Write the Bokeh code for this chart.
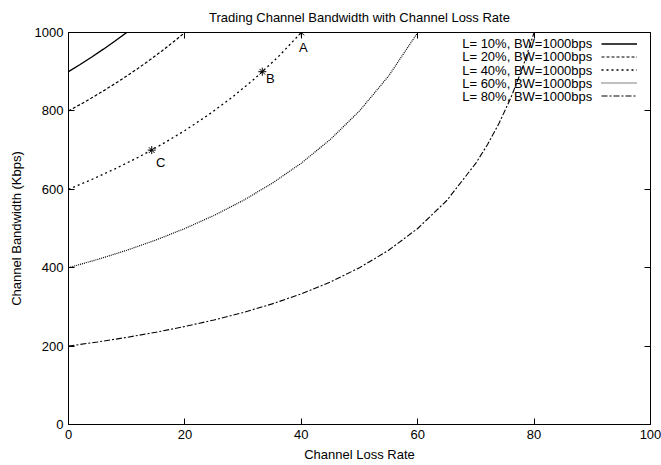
from bokeh.plotting import figure
from bokeh.models import (Range1d, LinearAxis, Legend, LegendItem, Label,
                          FixedTicker, ColumnDataSource)
from bokeh.embed import file_html
from bokeh.resources import INLINE
from bokeh.core.properties import value

# ---------------- data ----------------
x_ticks = [0, 20, 40, 60, 80, 100]
y_ticks = [0, 200, 400, 600, 800, 1000]

loss_10 = [0, 2, 4, 6, 8, 10]
bw_10 = [900, 918.4, 937.5, 957.4, 978.3, 1000]

loss_20 = [0, 2, 4, 6, 8, 10, 12, 14, 16, 18, 20]
bw_20 = [800, 816.3, 833.3, 851.1, 869.6, 888.9, 909.1, 930.2, 952.4, 975.6, 1000]

loss_40 = [0, 4, 8, 12, 16, 20, 24, 28, 32, 36, 40]
bw_40 = [600, 625, 652.2, 681.8, 714.3, 750, 789.5, 833.3, 882.4, 937.5, 1000]

loss_60 = [0, 5, 10, 15, 20, 25, 30, 35, 40, 45, 50, 55, 60]
bw_60 = [400, 421.1, 444.4, 470.6, 500, 533.3, 571.4, 615.4, 666.7, 727.3, 800, 888.9, 1000]

loss_80 = [0, 5, 10, 15, 20, 25, 30, 35, 40, 45, 50, 55, 60, 65, 70, 72, 74, 76, 78, 80]
bw_80 = [200, 210.5, 222.2, 235.3, 250, 266.7, 285.7, 307.7, 333.3, 363.6, 400,
         444.4, 500, 571.4, 666.7, 714.3, 769.2, 833.3, 909.1, 1000]

series_labels = ["L= 10%, BW=1000bps", "L= 20%, BW=1000bps", "L= 40%, BW=1000bps",
                 "L= 60%, BW=1000bps", "L= 80%, BW=1000bps"]

point_names = ["A", "B", "C"]
point_loss = [40, 33.3, 14.3]
point_bw = [1000, 900, 700]

# ---------------- figure ----------------
FONT = "Liberation Sans"
FS = "13px"

p = figure(width=661, height=465,
           x_range=Range1d(0, 100), y_range=Range1d(0, 1000),
           output_backend="svg", toolbar_location=None,
           min_border_left=68, min_border_right=11,
           min_border_top=32, min_border_bottom=41)

p.title.text = "Trading Channel Bandwidth with Channel Loss Rate"
p.title.align = "center"
p.title.vertical_align = "top"
p.title.text_font = FONT
p.title.text_font_size = FS
p.title.text_font_style = "normal"
p.title.text_color = "black"
p.title.standoff = 12

p.grid.visible = False
p.outline_line_color = "black"
p.outline_line_width = 1
p.background_fill_color = "white"
p.border_fill_color = "white"


def style_axis(ax):
    ax.major_tick_in = 6
    ax.major_tick_out = 0
    ax.minor_tick_in = 0
    ax.minor_tick_out = 0
    ax.major_tick_line_color = "black"
    ax.axis_line_color = "black"
    ax.major_label_text_font = FONT
    ax.major_label_text_font_size = FS
    ax.major_label_text_color = "black"
    ax.axis_label_text_font = FONT
    ax.axis_label_text_font_size = FS
    ax.axis_label_text_font_style = "normal"
    ax.axis_label_text_color = "black"


p.xaxis.axis_label = "Channel Loss Rate"
p.yaxis.axis_label = "Channel Bandwidth (Kbps)"
for ax in p.xaxis:
    style_axis(ax)
    ax.ticker = FixedTicker(ticks=x_ticks)
    ax.major_label_standoff = 5
    ax.axis_label_standoff = 5
for ax in p.yaxis:
    style_axis(ax)
    ax.ticker = FixedTicker(ticks=y_ticks)
    ax.major_label_standoff = 5
    ax.axis_label_standoff = 8

# mirror ticks on top and right (labels not drawn)
top_ax = LinearAxis(ticker=FixedTicker(ticks=x_ticks), major_label_text_color=None,
                    major_label_text_font_size="2px",
                    major_label_standoff=0, major_tick_in=6, major_tick_out=0,
                    minor_tick_in=0, minor_tick_out=0, axis_line_color=None,
                    major_tick_line_color="black")
right_ax = LinearAxis(ticker=FixedTicker(ticks=y_ticks), major_label_text_color=None,
                      major_label_text_font_size="2px",
                      major_label_standoff=0, major_tick_in=6, major_tick_out=0,
                      minor_tick_in=0, minor_tick_out=0, axis_line_color=None,
                      major_tick_line_color="black")
p.add_layout(top_ax, "above")
p.add_layout(right_ax, "right")

# ---------------- curves ----------------
xs = [loss_10, loss_20, loss_40, loss_60, loss_80]
ys = [bw_10, bw_20, bw_40, bw_60, bw_80]
dashes = ["solid", "3 2", "2 3", "1 1", "6 2 2 2"]
widths = [1.4, 1.2, 1.3, 1.2, 1.1]

renderers = []
for xv, yv, d, w in zip(xs, ys, dashes, widths):
    r = p.line(xv, yv, line_color="black", line_width=w, line_dash=d)
    renderers.append(r)

# ---------------- points A, B, C ----------------
pts = ColumnDataSource(dict(x=point_loss, y=point_bw, name=point_names))
pts.data["dx"] = [2, 8, 9]
pts.data["dy"] = [15, 7, 12]
p.scatter("x", "y", source=pts, marker="asterisk", size=8, line_color="black", line_width=1)
p.text("x", "y", text="name", source=pts, x_offset="dx", y_offset="dy",
       text_align="center", text_baseline="middle", text_font=value(FONT),
       text_font_size=FS, text_color="black")

# ---------------- legend (gnuplot style: text left, sample right) ----------------
leg = Legend(items=[LegendItem(label=" ", renderers=[r]) for r in renderers],
             location=(533, 322), glyph_width=36, glyph_height=13, label_height=13,
             label_width=0, label_standoff=0, spacing=0, padding=0, margin=0,
             border_line_color=None, background_fill_alpha=0,
             label_text_font_size=FS, label_text_font=FONT)
p.add_layout(leg)

row_top = 1000 - (43 - 32) / 0.392
row_step = 13.25 / 0.392
for i, lab in enumerate(series_labels):
    p.add_layout(Label(x=90.0, y=row_top - i * row_step, text=lab,
                       text_align="right", text_baseline="middle",
                       text_font=FONT, text_font_size=FS, text_color="black"))

open("out.html", "w").write(file_html(p, INLINE))
